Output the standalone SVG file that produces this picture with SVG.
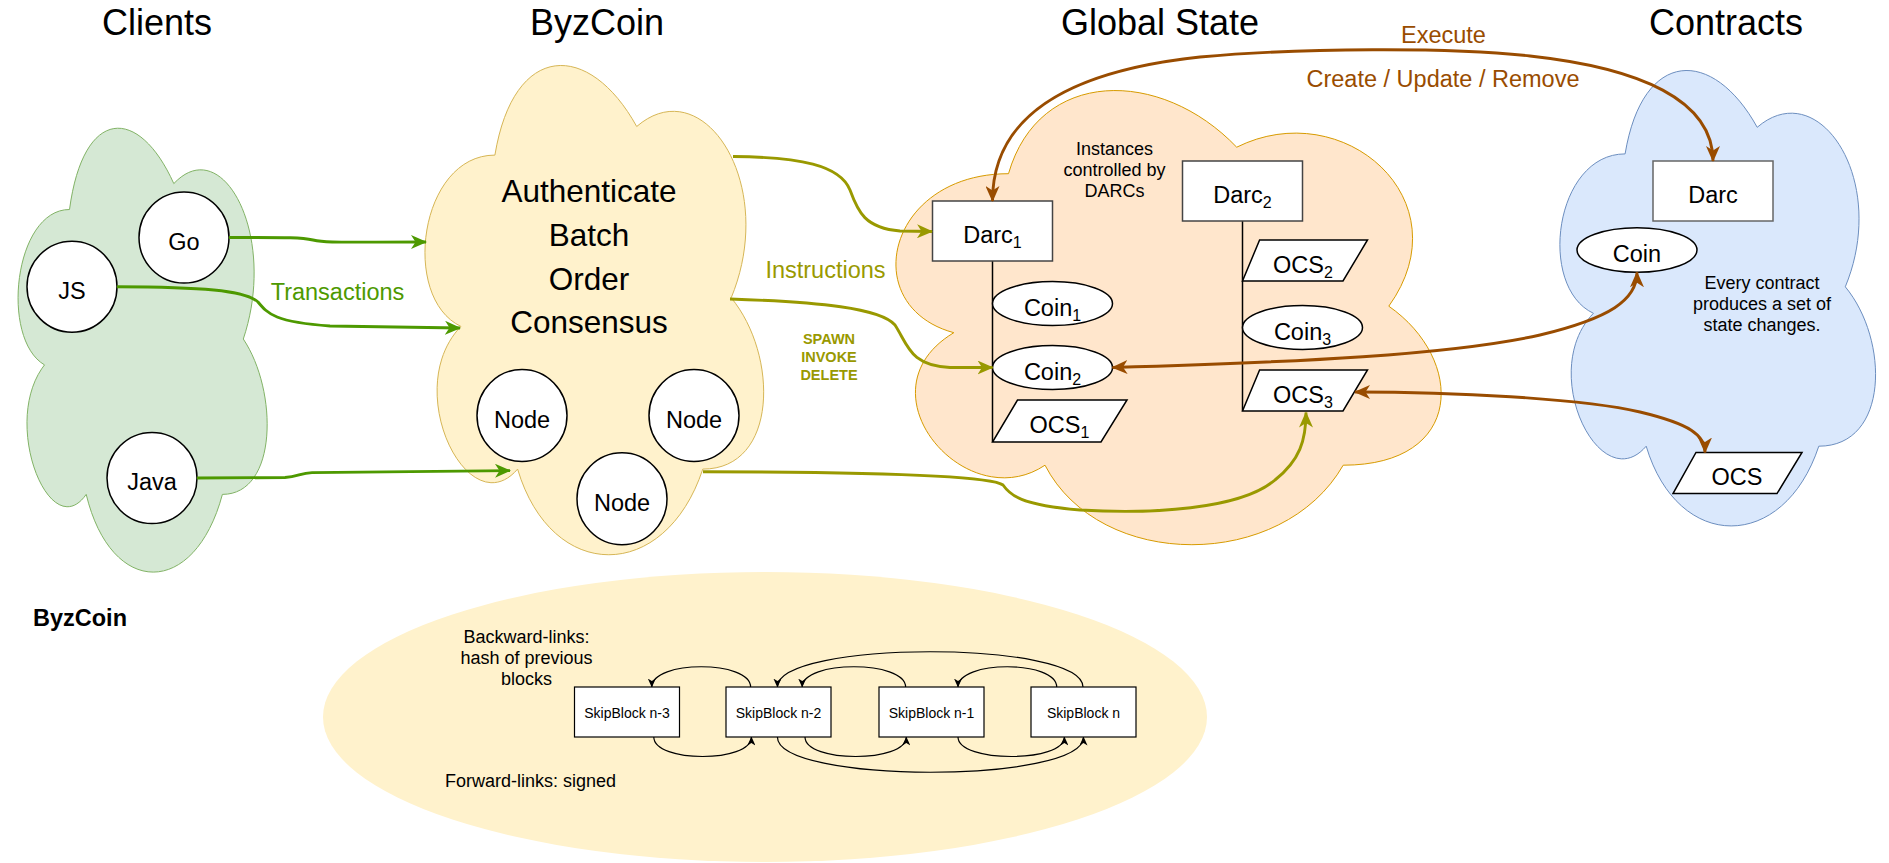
<svg xmlns="http://www.w3.org/2000/svg" width="1889" height="863" viewBox="0 0 1889 863">
<style>
.t{font-family:"Liberation Sans",Arial,Helvetica,sans-serif;text-anchor:middle;fill:#000}
.title{font-size:36px}
.lbl{font-size:23.5px}
.big{font-size:31.5px}
.sm{font-size:18px}
.sb{font-size:14px}
.shape{fill:#fff;stroke:#000;stroke-width:1.5}
.gl{fill:none;stroke:#4D9900;stroke-width:2.9}
.ol{fill:none;stroke:#999900;stroke-width:2.9}
.br{fill:none;stroke:#994C00;stroke-width:2.9}
.bk{fill:none;stroke:#000;stroke-width:1.2}
</style>
<defs>
<marker id="ag" viewBox="0 0 16 14" refX="15" refY="7" markerWidth="16" markerHeight="14" orient="auto-start-reverse" markerUnits="userSpaceOnUse"><path d="M0,0 L16,7 L0,14 L4.5,7 Z" fill="#4D9900"/></marker>
<marker id="ao" viewBox="0 0 16 14" refX="15" refY="7" markerWidth="16" markerHeight="14" orient="auto-start-reverse" markerUnits="userSpaceOnUse"><path d="M0,0 L16,7 L0,14 L4.5,7 Z" fill="#999900"/></marker>
<marker id="ab" viewBox="0 0 16 14" refX="15" refY="7" markerWidth="16" markerHeight="14" orient="auto-start-reverse" markerUnits="userSpaceOnUse"><path d="M0,0 L16,7 L0,14 L4.5,7 Z" fill="#994C00"/></marker>
<marker id="ak" viewBox="0 0 9 8" refX="8.5" refY="4" markerWidth="9" markerHeight="8" orient="auto" markerUnits="userSpaceOnUse"><path d="M0,0 L9,4 L0,8 L2.5,4 Z" fill="#000"/></marker>
</defs>

<g id="cloud-clients">
<path d="M69.5,209.5 C13.9,209.5 0,339 44.5,364.9 C0,421.9 50,546.2 86.2,494.4 C111.2,598 194.6,598 222.4,494.4 C278,494.4 278,390.8 243.3,339 C278,235.4 222.4,131.8 173.8,183.6 C139,105.9 83.4,105.9 69.5,209.5 Z" fill="#d5e8d4" stroke="#82b366" stroke-width="1"/>
</g>
<g id="cloud-byzcoin">
<path d="M494.9,155.1 C419.3,155.1 400.4,297.8 460.9,326.4 C400.4,389.2 468.4,526.2 517.6,469.1 C551.6,583.3 665,583.3 702.8,469.1 C778.4,469.1 778.4,354.9 731.2,297.8 C778.4,183.6 702.8,69.4 636.7,126.5 C589.4,40.9 513.8,40.9 494.9,155.1 Z" fill="#fff2cc" stroke="#d6b656" stroke-width="1"/>
</g>
<g id="cloud-global">
<path d="M1008.5,173.7 C886.8,173.7 856.4,306.2 953.8,332.7 C856.4,391 965.9,518.2 1045,465.2 C1099.8,571.2 1282.4,571.2 1343.2,465.2 C1464.9,465.2 1464.9,359.2 1388.8,306.2 C1464.9,200.2 1343.2,94.2 1236.7,147.2 C1160.7,67.7 1039,67.7 1008.5,173.7 Z" fill="#ffe6cc" stroke="#d79b00" stroke-width="1"/>
</g>
<g id="cloud-contracts">
<path d="M1625.1,153.9 C1554.6,153.9 1537,286.8 1593.4,313.3 C1537,371.8 1600.4,499.4 1646.2,446.2 C1677.9,552.5 1783.6,552.5 1818.8,446.2 C1889.3,446.2 1889.3,339.9 1845.3,286.8 C1889.3,180.5 1818.8,74.2 1757.2,127.3 C1713.2,47.6 1642.7,47.6 1625.1,153.9 Z" fill="#dae8fc" stroke="#6c8ebf" stroke-width="1"/>
</g>
<g id="skipchain-bg">
<ellipse cx="765" cy="717" rx="442" ry="145" fill="#fff2cc"/>
</g>

<g id="titles">
<text class="t title" x="157" y="35">Clients</text>
<text class="t title" x="597" y="35">ByzCoin</text>
<text class="t title" x="1160" y="35">Global State</text>
<text class="t title" x="1726" y="35">Contracts</text>
</g>

<g id="node-go"><ellipse class="shape" cx="184" cy="237.5" rx="45" ry="45.5"/><text class="t lbl" x="184" y="249.5">Go</text></g>
<g id="node-js"><ellipse class="shape" cx="72" cy="286.7" rx="45" ry="45.5"/><text class="t lbl" x="72" y="298.7">JS</text></g>
<g id="node-java"><ellipse class="shape" cx="152" cy="478" rx="45" ry="45.5"/><text class="t lbl" x="152" y="490">Java</text></g>

<g id="byzcoin-steps">
<text class="t big" x="589" y="201.6">Authenticate</text>
<text class="t big" x="589" y="246">Batch</text>
<text class="t big" x="589" y="289.7">Order</text>
<text class="t big" x="589" y="333">Consensus</text>
</g>
<g id="node-1"><ellipse class="shape" cx="522" cy="415.5" rx="45" ry="46"/><text class="t lbl" x="522" y="427.5">Node</text></g>
<g id="node-2"><ellipse class="shape" cx="694" cy="415.5" rx="45" ry="46"/><text class="t lbl" x="694" y="427.5">Node</text></g>
<g id="node-3"><ellipse class="shape" cx="622" cy="498.7" rx="45" ry="46"/><text class="t lbl" x="622" y="510.7">Node</text></g>

<g id="tree-lines">
<line x1="992.5" y1="261" x2="992.5" y2="442" stroke="#000" stroke-width="1.5"/>
<line x1="1242.5" y1="221" x2="1242.5" y2="411" stroke="#000" stroke-width="1.5"/>
</g>
<g id="darc1"><rect x="932.5" y="201" width="120" height="60" fill="#fff" stroke="#444" stroke-width="1.5"/><text class="t lbl" x="992.5" y="243">Darc<tspan dy="5" font-size="16">1</tspan></text></g>
<g id="darc2"><rect x="1182.5" y="161" width="120" height="60" fill="#fff" stroke="#444" stroke-width="1.5"/><text class="t lbl" x="1242.5" y="203">Darc<tspan dy="5" font-size="16">2</tspan></text></g>
<g id="coin1"><ellipse class="shape" cx="1052.5" cy="303.6" rx="60" ry="22"/><text class="t lbl" x="1052.5" y="315.6">Coin<tspan dy="5" font-size="16">1</tspan></text></g>
<g id="coin2"><ellipse class="shape" cx="1052.5" cy="367.5" rx="60" ry="22"/><text class="t lbl" x="1052.5" y="379.5">Coin<tspan dy="5" font-size="16">2</tspan></text></g>
<g id="ocs1"><polygon class="shape" points="1017.5,400 1127,400 1101,442 992.5,442"/><text class="t lbl" x="1059.5" y="433">OCS<tspan dy="5" font-size="16">1</tspan></text></g>
<g id="ocs2"><polygon class="shape" points="1259.6,240 1367.5,240 1343,281 1242.5,281"/><text class="t lbl" x="1303" y="272.5">OCS<tspan dy="5" font-size="16">2</tspan></text></g>
<g id="coin3"><ellipse class="shape" cx="1302.5" cy="327.5" rx="60" ry="22"/><text class="t lbl" x="1302.5" y="339.5">Coin<tspan dy="5" font-size="16">3</tspan></text></g>
<g id="ocs3"><polygon class="shape" points="1259.6,370 1367.5,370 1343,411 1242.5,411"/><text class="t lbl" x="1303" y="402.5">OCS<tspan dy="5" font-size="16">3</tspan></text></g>
<g id="instances-note">
<text class="t sm" x="1114.6" y="154.5">Instances</text>
<text class="t sm" x="1114.6" y="175.5">controlled by</text>
<text class="t sm" x="1114.6" y="196.5">DARCs</text>
</g>

<g id="contract-darc"><rect x="1653" y="161" width="120" height="60" fill="#fff" stroke="#666" stroke-width="1.5"/><text class="t lbl" x="1713" y="203">Darc</text></g>
<g id="contract-coin"><ellipse class="shape" cx="1637" cy="250" rx="60" ry="22.3"/><text class="t lbl" x="1637" y="262">Coin</text></g>
<g id="contract-ocs"><polygon class="shape" points="1696,452.5 1802,452.5 1777,493.6 1673,493.6"/><text class="t lbl" x="1737" y="485">OCS</text></g>
<g id="contracts-note">
<text class="t sm" x="1762" y="288.6">Every contract</text>
<text class="t sm" x="1762" y="309.6">produces a set of</text>
<text class="t sm" x="1762" y="330.6">state changes.</text>
</g>

<g id="connectors">
<path class="gl" d="M229,237.5 C280,237.5 300,237 313,240 C326,243 340,242 426,242" marker-end="url(#ag)"/>
<path class="gl" d="M117,286.7 C200,287 245,290 258,302 C268,314 275,322 330,326 L460,328" marker-end="url(#ag)"/>
<path class="gl" d="M197,478 L285,477.5 C298,477 300,473 312,472.6 L510,470.6" marker-end="url(#ag)"/>
<path class="ol" d="M733,156.5 C800,157 840,165 850,190 C858,212 865,228 900,231 L932,231.5" marker-end="url(#ao)"/>
<path class="ol" d="M730,299 C820,302 880,308 895,325 C908,345 910,366 950,367.5 L992.5,367.5" marker-end="url(#ao)"/>
<path class="ol" d="M703,471.7 C850,472 990,475 1003,485 C1010,495 1020,505 1080,510 C1150,514 1240,510 1275,480 C1300,460 1306,440 1306,412.5" marker-end="url(#ao)"/>
<path class="br" d="M992.5,201 C992.5,120 1060,72 1200,57 C1300,48 1450,47 1530,56 C1640,68 1713,100 1713,161" marker-start="url(#ab)" marker-end="url(#ab)"/>
<path class="br" d="M1112.5,367.5 C1300,362 1450,355 1540,335 C1610,318 1637,300 1637,272.3" marker-start="url(#ab)" marker-end="url(#ab)"/>
<path class="br" d="M1355,392 C1450,392 1580,398 1640,412 C1690,424 1705,435 1705,452.5" marker-start="url(#ab)" marker-end="url(#ab)"/>
<path class="bk" d="M750.6,687 C750.6,660 651.8,660 651.8,687" marker-end="url(#ak)"/>
<path class="bk" d="M905.6,687 C905.6,660 802.2,660 802.2,687" marker-end="url(#ak)"/>
<path class="bk" d="M1056.7,687 C1056.7,660 958,660 958,687" marker-end="url(#ak)"/>
<path class="bk" d="M1083,687 C1083,640 777.4,640 777.4,687" marker-end="url(#ak)"/>
<path class="bk" d="M653.8,737 C653.8,763 751.4,763 751.4,737" marker-end="url(#ak)"/>
<path class="bk" d="M805,737 C805,763 906.3,763 906.3,737" marker-end="url(#ak)"/>
<path class="bk" d="M958,737 C958,763 1064.4,763 1064.4,737" marker-end="url(#ak)"/>
<path class="bk" d="M777.4,737 C777.4,784 1083.5,784 1083.5,737" marker-end="url(#ak)"/>
</g>

<g id="edge-labels">
<text class="t lbl" x="337.5" y="300" style="fill:#4D9900">Transactions</text>
<text class="t lbl" x="825.5" y="277.5" style="fill:#999900">Instructions</text>
<text class="t sb" x="829" y="344" style="fill:#999900;font-weight:bold;font-size:14.5px">SPAWN</text>
<text class="t sb" x="829" y="362" style="fill:#999900;font-weight:bold;font-size:14.5px">INVOKE</text>
<text class="t sb" x="829" y="380" style="fill:#999900;font-weight:bold;font-size:14.5px">DELETE</text>
<text class="t lbl" x="1443.5" y="42.5" style="fill:#994C00">Execute</text>
<text class="t lbl" x="1443" y="87" style="fill:#994C00">Create / Update / Remove</text>
</g>

<g id="skipblock-n3"><rect x="574.5" y="687" width="105" height="50" fill="#fff" stroke="#000" stroke-width="1.2"/><text class="t sb" x="627" y="718">SkipBlock n-3</text></g>
<g id="skipblock-n2"><rect x="726" y="687" width="105" height="50" fill="#fff" stroke="#000" stroke-width="1.2"/><text class="t sb" x="778.5" y="718">SkipBlock n-2</text></g>
<g id="skipblock-n1"><rect x="879" y="687" width="105" height="50" fill="#fff" stroke="#000" stroke-width="1.2"/><text class="t sb" x="931.5" y="718">SkipBlock n-1</text></g>
<g id="skipblock-n"><rect x="1031" y="687" width="105" height="50" fill="#fff" stroke="#000" stroke-width="1.2"/><text class="t sb" x="1083.5" y="718">SkipBlock n</text></g>
<g id="skipchain-notes">
<text class="t sm" x="526.5" y="643">Backward-links:</text>
<text class="t sm" x="526.5" y="664">hash of previous</text>
<text class="t sm" x="526.5" y="684.5">blocks</text>
<text class="t sm" x="530.6" y="786.7">Forward-links: signed</text>
<text class="t" x="80" y="625.7" style="font-size:23.5px;font-weight:bold">ByzCoin</text>
</g>
</svg>
